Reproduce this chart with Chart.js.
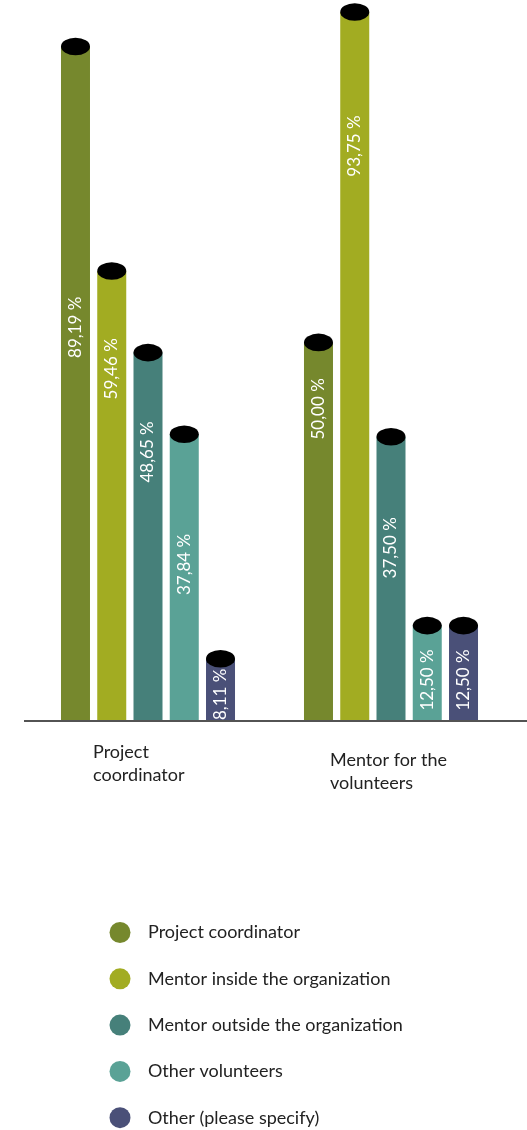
<!DOCTYPE html>
<html>
<head>
<meta charset="utf-8">
<script src="https://cdn.jsdelivr.net/npm/chart.js@4.4.0/dist/chart.umd.min.js"></script>
<style>
  html, body { margin: 0; padding: 0; background: #fff; }
  canvas { display: block; }
</style>
</head>
<body>
<canvas id="barChart" width="527" height="1130"></canvas>
<script>
// categorias (eje x), cada una en dos lineas
var categorias = [['Project', 'coordinator'], ['Mentor for the', 'volunteers']];

// series (leyenda)
var series = ['Project coordinator', 'Mentor inside the organization', 'Mentor outside the organization', 'Other volunteers', 'Other (please specify)'];
var colores = ['#76882d', '#a2ac22', '#46807a', '#5aa296', '#4a5078'];

// porcentajes por serie: [Project coordinator, Mentor for the volunteers]
var projectCoordinator = [89.19, 50.00];
var mentorInside = [59.46, 93.75];
var mentorOutside = [48.65, 37.50];
var otherVolunteers = [37.84, 12.50];
var otherSpecify = [8.11, 12.50];

var valores = [projectCoordinator, mentorInside, mentorOutside, otherVolunteers, otherSpecify];

var fuente = 'Lato, "Open Sans", sans-serif';

// dibuja tapas, etiquetas, eje y leyenda
var cilindros = {
  id: 'cilindros',
  afterDatasetsDraw: function(chart, args, opts) {
    var ctx = chart.ctx;
    var yScale = chart.scales.y;
    ctx.save();
    chart.data.datasets.forEach(function(ds, d) {
      var meta = chart.getDatasetMeta(d);
      meta.data.forEach(function(bar, i) {
        // tapa negra
        ctx.fillStyle = '#000';
        ctx.beginPath();
        ctx.ellipse(bar.x, bar.y, bar.width / 2, 8.8, 0, 0, Math.PI * 2);
        ctx.fill();
        // texto girado dentro de la barra
        var yTxt = yScale.getPixelForValue(opts.labelAt[d][i]);
        ctx.save();
        ctx.translate(bar.x, yTxt);
        ctx.rotate(-Math.PI / 2);
        ctx.fillStyle = '#fff';
        ctx.font = '17px ' + fuente;
        ctx.textAlign = 'center';
        ctx.textBaseline = 'middle';
        ctx.fillText(ds.data[i].toFixed(2).replace('.', ',') + ' %', 0, 0);
        ctx.restore();
      });
    });
    // linea del eje x
    var area = chart.chartArea;
    ctx.strokeStyle = 'rgba(25,25,25,0.75)';
    ctx.lineWidth = 2;
    ctx.beginPath();
    ctx.moveTo(24, area.bottom + 1);
    ctx.lineTo(chart.width, area.bottom + 1);
    ctx.stroke();
    ctx.restore();
  },
  afterDraw: function(chart, args, opts) {
    var ctx = chart.ctx;
    var xScale = chart.scales.x;
    var area = chart.chartArea;
    ctx.save();
    ctx.font = '18px ' + fuente;
    ctx.fillStyle = '#222';
    ctx.textAlign = 'left';
    ctx.textBaseline = 'alphabetic';
    // etiquetas de categoria, alineadas a la izquierda
    chart.data.labels.forEach(function(lineas, i) {
      var x = xScale.getPixelForValue(i) + opts.tickNudge[i].dx;
      var y = area.bottom + opts.tickNudge[i].dy;
      lineas.forEach(function(linea, k) {
        ctx.fillText(linea, x, y + k * 22.5);
      });
    });
    // leyenda vertical con circulos
    ctx.textBaseline = 'middle';
    chart.data.datasets.forEach(function(ds, d) {
      var y = 932.5 + d * 46.3;
      ctx.fillStyle = ds.backgroundColor;
      ctx.beginPath();
      ctx.arc(120, y, 10.5, 0, Math.PI * 2);
      ctx.fill();
      ctx.fillStyle = '#222';
      ctx.fillText(ds.label, 148, y);
    });
    ctx.restore();
  }
};

var datasets = [];
for (var i = 0; i < series.length; i++) {
  datasets.push({
    label: series[i],
    data: valores[i],
    backgroundColor: colores[i],
    borderWidth: 0,
    categoryPercentage: 0.746,
    barPercentage: 0.8
  });
}

new Chart(document.getElementById('barChart').getContext('2d'), {
  type: 'bar',
  data: { labels: categorias, datasets: datasets },
  options: {
    responsive: false,
    animation: false,
    layout: { padding: { left: 26.5, right: 14.5, top: 0, bottom: 410 } },
    scales: {
      x: { display: false },
      y: { display: false, min: 0, max: 95.34 }
    },
    plugins: {
      legend: { display: false },
      tooltip: { enabled: false },
      cilindros: {
        // centro de cada etiqueta, en unidades del eje y
        labelAt: [[52.0, 41.2], [46.5, 76.0], [35.5, 22.8], [20.6, 5.3], [3.4, 5.3]],
        tickNudge: [{ dx: -55, dy: 38 }, { dx: -61, dy: 46 }]
      }
    }
  },
  plugins: [cilindros]
});
</script>
</body>
</html>
